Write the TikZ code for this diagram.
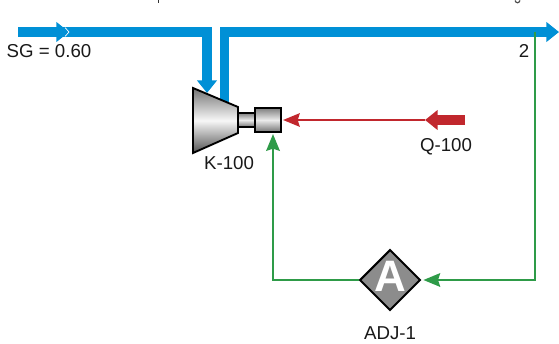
\documentclass[tikz,border=0pt]{standalone}
\usepackage{fontspec}
\setmainfont{Liberation Sans}
\usetikzlibrary{arrows.meta,shapes.geometric}
\definecolor{strm}{HTML}{0090D6}
\definecolor{enrg}{HTML}{C1272D}
\definecolor{logi}{HTML}{2E9B48}
\definecolor{adjg}{HTML}{8C8C8C}
\tikzset{
  lbl/.style={font=\fontsize{14}{16}\selectfont,text=black!90,inner sep=0pt},
  stream/.style={strm,line width=6.8pt},
  energy/.style={enrg,line width=1.9pt},
  signal/.style={logi,line width=2.2pt},
  equip/.style={draw=black,line width=1.4pt,line join=miter},
  thinhead/.style={-{Stealth[length=12.5pt,width=10pt,inset=1.5pt]}},
  bighead/.style={-{Triangle[length=9.5pt,width=14.5pt]}}
}
\begin{document}
\begin{tikzpicture}[x=0.75pt,y=-0.75pt]
\useasboundingbox (0,0) rectangle (559,343);
% coordinates
\coordinate (in) at (18,32);
\coordinate (inmid) at (69,32);
\coordinate (incorner) at (207,32);
\coordinate (intip) at (207,93);
\coordinate (outbase) at (224.5,104);
\coordinate (outcorner) at (224.5,32);
\coordinate (outtip) at (559,32);
\coordinate (qstart) at (465,120);
\coordinate (qtip) at (425,120);
\coordinate (tap) at (535,32);
\coordinate (tapcorner) at (535,280);
\coordinate (backcorner) at (273,280);
% streams below the compressor
\draw[stream,line join=miter] (in) -- (incorner) -- (207,85);
\draw[stream,bighead] (50,32) -- (inmid);
\draw[white,line width=0.5pt] (65,27.5) -- (inmid) -- (65,36.5);
\draw[stream,bighead] (207,78) -- (intip);
\draw[stream,bighead,line join=miter] (outbase) -- (outcorner) -- (outtip);
% compressor
\shade[top color=black!55,bottom color=black!68,middle color=black!3]
  (193,88) -- (238,107) -- (238,133) -- (193,153) -- cycle;
\draw[equip] (193,88) -- (238,107) -- (238,133) -- (193,153) -- cycle;
\node[equip,rectangle,minimum width=12.75pt,minimum height=10.5pt,inner sep=0pt,top color=black!50,bottom color=black!55,middle color=black!8] (shaft) at (246.5,120) {};
\node[equip,rectangle,minimum width=19.5pt,minimum height=18pt,inner sep=0pt,top color=black!50,bottom color=black!55,middle color=black!8] (motor) at (268,120) {};
% adjuster
\node[draw=black,line width=1.5pt,fill=adjg,diamond,aspect=1,minimum size=45.5pt,inner sep=0pt] (adj) at (390,280) {};
\node[text=white,inner sep=0pt,font=\fontsize{33}{34}\bfseries\selectfont] (adjA) at (390,276) {A};
% energy
\draw[energy,thinhead] (qtip) -- (283,120);
\draw[enrg,line width=7.2pt,bighead] (qstart) -- (qtip);
% signal
\draw[signal,thinhead,shorten >=1.5pt,line join=miter] (tap) -- (tapcorner) -- (adj.east);
\draw[signal,thinhead,line join=miter] (adj.west) -- (backcorner) -- (273,134);
% clipped title fragments at the top edge
\draw[black!80,line width=1.2pt] (158.5,0) -- (158.5,3);
\draw[black!70,line width=0.9pt] (515,0.5) .. controls (516,3.5) and (519,3.5) .. (520,0.5);
% labels
\node[lbl] (sg) at (49,51) {SG = 0.60};
\node[lbl] (two) at (524,51) {2};
\node[lbl] (k100) at (229,163) {K-100};
\node[lbl] (q100) at (446,147) {Q-100};
\node[lbl] (adj1) at (390,333) {ADJ-1};
\end{tikzpicture}
\end{document}
